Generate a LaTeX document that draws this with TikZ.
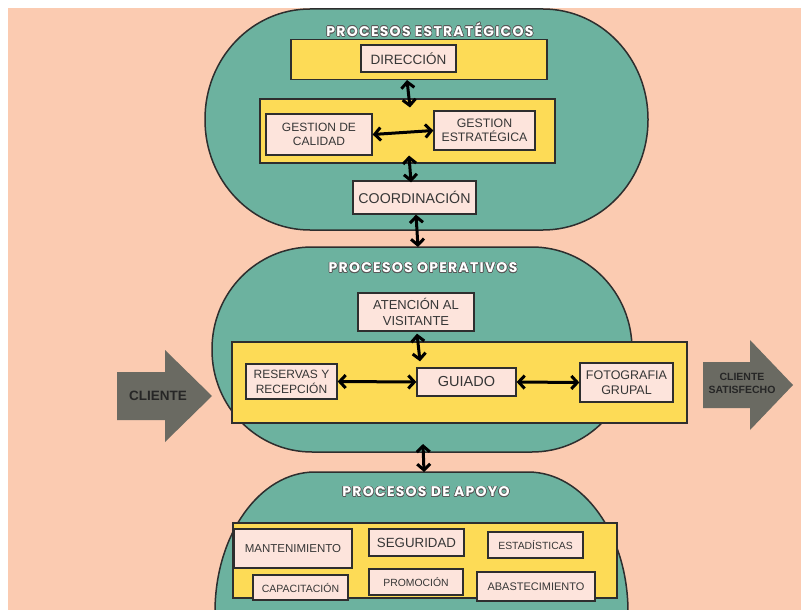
\documentclass[tikz,border=0pt]{standalone}
\usepackage{fontspec}
\setmainfont{Liberation Sans}
\newfontfamily\titlefont{Poppins}[LetterSpace=9]
\usepackage{contour}
\contourlength{0.55pt}
\contournumber{16}
\usetikzlibrary{arrows.meta,calc}
\definecolor{peach}{HTML}{FBCBB1}
\definecolor{tealb}{HTML}{6CB29F}
\definecolor{ylw}{HTML}{FDDB56}
\definecolor{boxf}{HTML}{FDE4DC}
\definecolor{gry}{HTML}{6A6A62}
\definecolor{bord}{HTML}{2E2E2E}
\definecolor{txt}{HTML}{363636}
\newcommand\stadiumpath[6]{(#1,#2+#6) arc[start angle=180,end angle=270,x radius=#5,y radius=#6] -- (#3-#5,#2) arc[start angle=270,end angle=360,x radius=#5,y radius=#6] -- (#3,#4-#6) arc[start angle=0,end angle=90,x radius=#5,y radius=#6] -- (#1+#5,#4) arc[start angle=90,end angle=180,x radius=#5,y radius=#6] -- cycle}
\newcommand\ttl[1]{\contour{black!65}{#1}}
\newcommand\fs[2]{\fontsize{#1}{#2}\selectfont}
\tikzset{
  stad/.style={draw=bord, fill=tealb, line width=1.5pt},
  band/.style={draw=bord, fill=ylw, line width=1.1pt, inner sep=0pt},
  box/.style={draw=bord, fill=boxf, line width=1.3pt, inner sep=0pt, align=center, text=txt},
  ttlnode/.style={inner sep=0pt, text=white, font=\titlefont\bfseries\fs{14}{16}},
  dbl/.style={{Straight Barb[length=6pt,width=13pt]}-{Straight Barb[length=6pt,width=13pt]}, line width=3pt, black},
  blk/.style={fill=gry},
  blktxt/.style={inner sep=0pt, align=center, text=black!85, font=\bfseries}
}
\begin{document}
\begin{tikzpicture}[x=1pt,y=-1pt]
\useasboundingbox (0,0) rectangle (801,610);
\clip (0,0) rectangle (801,610);
\fill[white] (0,0) rectangle (801,610);
\fill[peach] (8,8) rectangle (801,610);

% ---- Strategic processes
\draw[stad] \stadiumpath{205}{9}{648}{230}{105}{110};
\node[ttlnode] (t1) at (430,30) {\ttl{PROCESOS ESTRATÉGICOS}};
\node[band, minimum width=256, minimum height=40] (y1) at (419,59.5) {};
\node[box, minimum width=95, minimum height=27, font=\fs{13.5}{15}] (dir) at (408.5,58.5) {DIRECCIÓN};
\node[band, minimum width=295, minimum height=64] (y2) at (407.5,131) {};
\node[box, minimum width=106, minimum height=41, font=\fs{12}{14}] (gc) at (319,134.5) {GESTION DE\\CALIDAD};
\node[box, minimum width=101, minimum height=39, font=\fs{12.3}{14}] (ge) at (484.5,130.5) {GESTION\\ESTRATÉGICA};
\node[box, minimum width=123, minimum height=33, font=\fs{14.2}{16}] (coord) at (414.5,197.5) {COORDINACIÓN};

% ---- Operative processes
\draw[stad] \stadiumpath{212}{247}{632}{452}{100}{102};
\coordinate (optop) at (418,247);
\coordinate (opbot) at (423,444);
\node[ttlnode] (t2) at (423,268) {\ttl{PROCESOS OPERATIVOS}};
\node[box, minimum width=116, minimum height=38, font=\fs{13}{16}] (av) at (416,312) {ATENCIÓN AL\\VISITANTE};
\node[band, minimum width=455, minimum height=81] (y3) at (459.5,382.5) {};
\node[box, minimum width=91, minimum height=35, font=\fs{12}{15}] (rr) at (291.5,381.5) {RESERVAS Y\\RECEPCIÓN};
\node[box, minimum width=99, minimum height=28, font=\fs{14.5}{16}] (gui) at (466.5,382) {GUIADO};
\node[box, minimum width=93, minimum height=39, font=\fs{12.5}{15}] (fg) at (626.5,382.5) {FOTOGRAFIA\\GRUPAL};

% ---- Support processes
\draw[stad] \stadiumpath{215}{472}{628}{760}{100}{140};
\coordinate (aptop) at (424,472);
\node[ttlnode] (t3) at (426,492) {\ttl{PROCESOS DE APOYO}};
\node[band, minimum width=384, minimum height=75] (y4) at (425,560.5) {};
\node[box, minimum width=118, minimum height=39, font=\fs{11.5}{13}] (mant) at (293,548.5) {MANTENIMIENTO};
\node[box, minimum width=95, minimum height=27, font=\fs{13.3}{15}] (seg) at (416.5,542.5) {SEGURIDAD};
\node[box, minimum width=95, minimum height=26, font=\fs{10.4}{12}] (est) at (535.5,545) {ESTADÍSTICAS};
\node[box, minimum width=95, minimum height=25, font=\fs{10.5}{12}] (cap) at (300.5,587.5) {CAPACITACIÓN};
\node[box, minimum width=94, minimum height=26, font=\fs{10.4}{12}] (prom) at (416,582) {PROMOCIÓN};
\node[box, minimum width=118, minimum height=29, font=\fs{11}{13}] (abas) at (536,586.5) {ABASTECIMIENTO};

% ---- Client arrows
\fill[blk] (117,372) -- (165,372) -- (165,350) -- (212,396) -- (165,442) -- (165,420) -- (117,420) -- cycle;
\node[blktxt, font=\bfseries\fs{13.5}{15}] (cli) at (158,396) {CLIENTE};
\fill[blk] (703,362) -- (750,362) -- (750,340) -- (793,385) -- (750,430) -- (750,408) -- (703,408) -- cycle;
\node[blktxt, font=\bfseries\fs{10.5}{13}] (clis) at (742,383) {CLIENTE\\SATISFECHO};

% ---- Connectors
\draw[dbl] ([xshift=-12pt]y1.south) -- ([xshift=2.5pt,yshift=-9pt]y2.north);
\draw[dbl] (gc.east) -- (ge.west);
\draw[dbl] ([xshift=1.5pt,yshift=8pt]y2.south) -- ([xshift=-3.5pt,yshift=-2pt]coord.north);
\draw[dbl] ([xshift=1.5pt]coord.south) -- (optop);
\draw[dbl] ([xshift=1pt,yshift=-2pt]av.south) -- ([xshift=-46.5pt,yshift=6pt]gui.north);
\draw[dbl] (rr.east) -- (gui.west);
\draw[dbl] (gui.east) -- (fg.west);
\draw[dbl] (opbot) -- (aptop);
\end{tikzpicture}
\end{document}
